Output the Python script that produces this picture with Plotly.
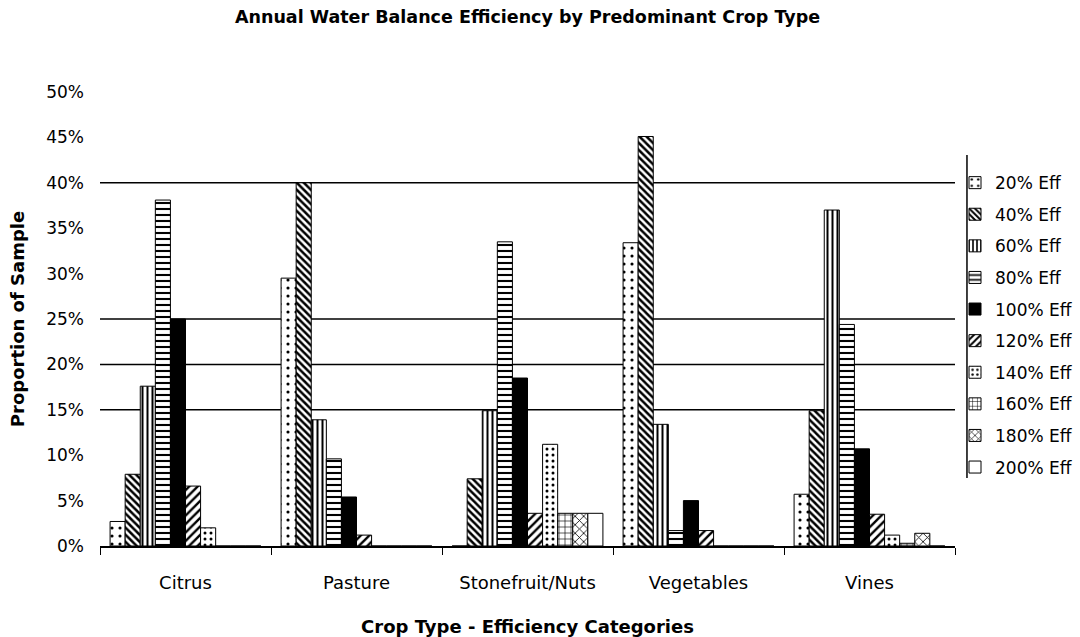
import plotly.graph_objects as go

categories = ["Citrus", "Pasture", "Stonefruit/Nuts", "Vegetables", "Vines"]
series_names = ["20% Eff", "40% Eff", "60% Eff", "80% Eff", "100% Eff",
                "120% Eff", "140% Eff", "160% Eff", "180% Eff", "200% Eff"]

eff20 = [0.027, 0.295, 0.0, 0.334, 0.057]
eff40 = [0.079, 0.400, 0.074, 0.451, 0.149]
eff60 = [0.176, 0.139, 0.149, 0.134, 0.370]
eff80 = [0.381, 0.096, 0.335, 0.017, 0.244]
eff100 = [0.250, 0.054, 0.185, 0.050, 0.107]
eff120 = [0.066, 0.012, 0.036, 0.017, 0.035]
eff140 = [0.020, 0.0, 0.112, 0.0, 0.012]
eff160 = [0.0, 0.0, 0.036, 0.0, 0.003]
eff180 = [0.0, 0.0, 0.036, 0.0, 0.014]
eff200 = [0.0, 0.0, 0.036, 0.0, 0.0]

series_values = [eff20, eff40, eff60, eff80, eff100,
                 eff120, eff140, eff160, eff180, eff200]

y_ticks = [0, 0.05, 0.10, 0.15, 0.20, 0.25, 0.30, 0.35, 0.40, 0.45, 0.50]
grid_levels = [0.15, 0.20, 0.25, 0.40]

# pattern styles: (shape, size, solidity, solid fill colour)
styles = [
    (".", 8, 0.12, "white"),
    ("\\", 5, 0.5, "white"),
    ("|", 5, 0.4, "white"),
    ("-", 6, 0.35, "white"),
    ("", 8, 0.3, "black"),
    ("/", 6, 0.4, "white"),
    (".", 6, 0.2, "white"),
    ("+", 6, 0.2, "white"),
    ("x", 6, 0.25, "white"),
    ("", 8, 0.3, "white"),
]

FONT = "DejaVu Sans, Liberation Sans, Arial"

fig = go.Figure()
for name, vals, (shape, size, sol, col) in zip(series_names, series_values, styles):
    marker = dict(color=col, line=dict(color="black", width=1))
    if shape:
        marker["pattern"] = dict(shape=shape, size=size, solidity=sol,
                                 fgcolor="black", bgcolor="white", fillmode="replace")
    fig.add_trace(go.Bar(x=categories, y=vals, name=name, marker=marker,
                         legendgroup=name))

shapes = [dict(type="line", xref="paper", x0=0, x1=1, yref="y", y0=g, y1=g,
               line=dict(color="black", width=1.5), layer="below")
          for g in grid_levels]
shapes.append(dict(type="line", xref="paper", yref="paper", x0=1.014, x1=1.014,
                   y0=0.150, y1=0.861, line=dict(color="black", width=1.5)))

fig.update_layout(
    width=1080, height=637,
    paper_bgcolor="white", plot_bgcolor="white",
    margin=dict(l=100, r=125, t=92, b=91, autoexpand=False),
    barmode="group", bargap=0.118, bargroupgap=0,
    font=dict(family=FONT, color="black", size=15),
    title=dict(text="<b>Annual Water Balance Efficiency by Predominant Crop Type</b>",
               x=0.5, xref="paper", xanchor="center", y=0.973, yanchor="middle",
               font=dict(size=17.5, family=FONT, color="black")),
    legend=dict(x=1.0, xanchor="left", y=0.839, yanchor="top",
                font=dict(size=17, family=FONT), tracegroupgap=6.5,
                bgcolor="rgba(0,0,0,0)", itemwidth=30),
    shapes=shapes,
    xaxis=dict(
        automargin=False,
        showline=True, linecolor="black", linewidth=1.5,
        ticks="outside", tickson="boundaries", ticklen=7, tickcolor="black",
        tickfont=dict(size=18), showgrid=False, ticklabelstandoff=20,
        title=dict(text="<b>Crop Type - Efficiency Categories</b>",
                   font=dict(size=18), standoff=28),
    ),
    yaxis=dict(
        automargin=False,
        range=[0, 0.5], tickvals=y_ticks, tickformat=".0%",
        showgrid=False, zeroline=False, showline=False, ticks="",
        tickfont=dict(size=17), ticklabelstandoff=15,
        title=dict(text="<b>Proportion of Sample</b>", font=dict(size=18), standoff=16),
    ),
)

fig.write_html("out.html", config={"displayModeBar": False},
               post_script="document.body.style.margin='0px';")
